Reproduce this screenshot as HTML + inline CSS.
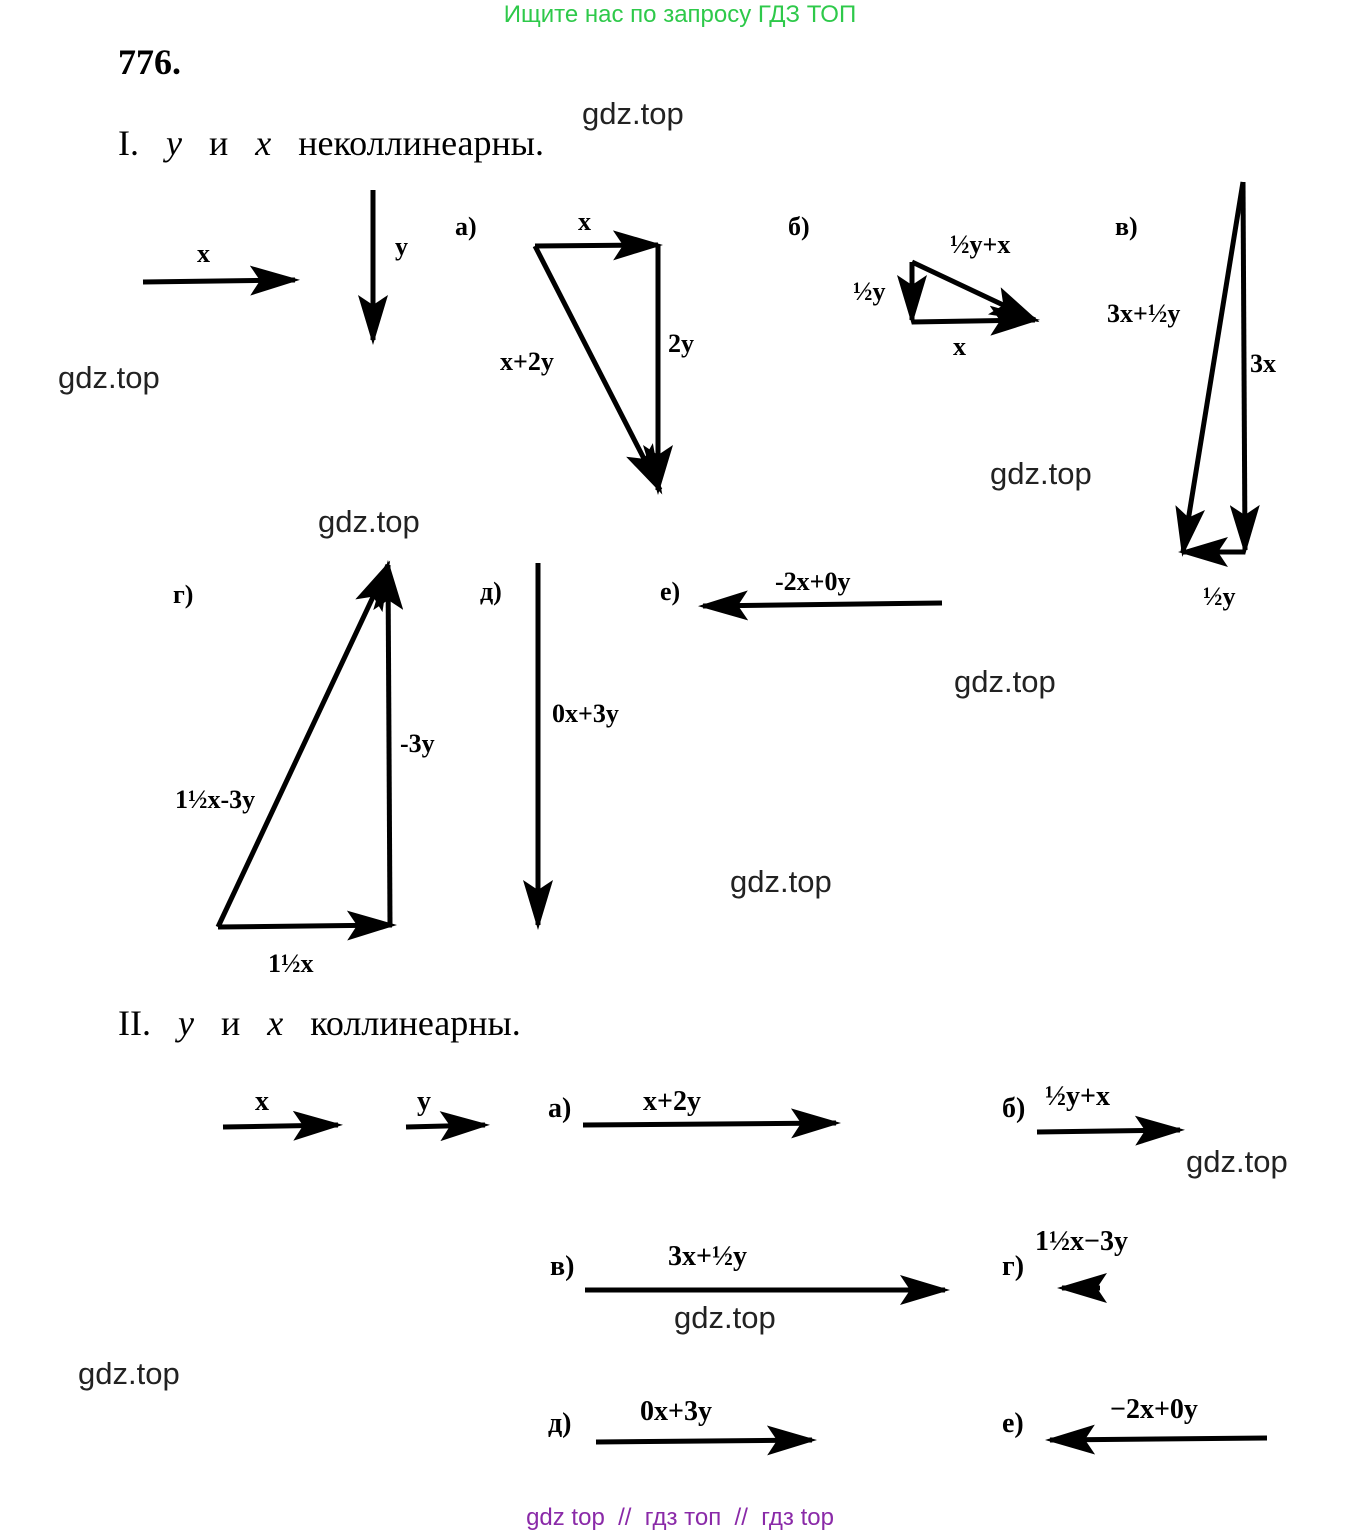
<!DOCTYPE html>
<html><head><meta charset="utf-8"><style>
html,body{margin:0;padding:0;background:#fff}
svg{display:block}
.s{font-family:"Liberation Serif",serif;font-weight:bold;fill:#000}
.n{font-family:"Liberation Serif",serif;fill:#000}
.w{font-family:"Liberation Sans",sans-serif;fill:#222;font-size:31px}
</style></head><body>
<svg width="1363" height="1535" viewBox="0 0 1363 1535" xmlns="http://www.w3.org/2000/svg">
<defs>
<marker id="a" markerWidth="10" markerHeight="6" refX="9" refY="3" orient="auto" markerUnits="strokeWidth">
<polygon points="0,0 10,3 0,6 2,3" fill="#000"/></marker>
</defs>
<text x="680" y="22" text-anchor="middle" font-family="Liberation Sans,sans-serif" font-size="24" fill="#2ec94a">Ищите нас по запросу ГДЗ ТОП</text>
<text x="118" y="74" class="s" font-size="36">776.</text>
<text x="118" y="155" class="n" font-size="36" word-spacing="18">I. <tspan font-style="italic">y</tspan> и <tspan font-style="italic">x</tspan> неколлинеарны.</text>
<g stroke="#000" stroke-width="5" fill="none" marker-end="url(#a)">
<line x1="143" y1="282" x2="295" y2="280"/>
<line x1="373" y1="190" x2="373" y2="340"/>
<line x1="535" y1="246" x2="658" y2="245"/>
<line x1="658" y1="245" x2="658" y2="490"/>
<line x1="535" y1="246" x2="660" y2="490"/>
<line x1="912" y1="262" x2="912" y2="320"/>
<line x1="912" y1="322" x2="1035" y2="320"/>
<line x1="912" y1="262" x2="1035" y2="320"/>
<line x1="1243" y1="182" x2="1245" y2="550"/>
<line x1="1245" y1="552" x2="1183" y2="552"/>
<line x1="1243" y1="182" x2="1183" y2="552"/>
<line x1="218" y1="927" x2="392" y2="925"/>
<line x1="390" y1="925" x2="388" y2="565"/>
<line x1="218" y1="927" x2="388" y2="565"/>
<line x1="538" y1="563" x2="538" y2="925"/>
<line x1="942" y1="603" x2="703" y2="606"/>
<line x1="223" y1="1127" x2="338" y2="1125"/>
<line x1="406" y1="1127" x2="485" y2="1125"/>
<line x1="583" y1="1125" x2="836" y2="1123"/>
<line x1="1037" y1="1132" x2="1180" y2="1130"/>
<line x1="585" y1="1290" x2="945" y2="1290"/>
<line x1="1100" y1="1288" x2="1062" y2="1288"/>
<line x1="596" y1="1442" x2="812" y2="1440"/>
<line x1="1267" y1="1438" x2="1050" y2="1440"/>
</g>
<g class="s" font-size="26">
<text x="197" y="262">x</text>
<text x="395" y="255">y</text>
<text x="455" y="235">а)</text>
<text x="578" y="230">x</text>
<text x="668" y="352">2y</text>
<text x="500" y="370">x+2y</text>
<text x="788" y="235">б)</text>
<text x="950" y="253">½y+x</text>
<text x="853" y="300">½y</text>
<text x="953" y="355">x</text>
<text x="1115" y="235">в)</text>
<text x="1107" y="322">3x+½y</text>
<text x="1250" y="372">3x</text>
<text x="1203" y="605">½y</text>
<text x="173" y="603">г)</text>
<text x="480" y="600">д)</text>
<text x="660" y="600">е)</text>
<text x="775" y="590">-2x+0y</text>
<text x="400" y="752">-3y</text>
<text x="552" y="722">0x+3y</text>
<text x="175" y="808">1½x-3y</text>
<text x="268" y="972">1½x</text>
</g>
<text x="118" y="1035" class="n" font-size="36" word-spacing="18">II. <tspan font-style="italic">y</tspan> и <tspan font-style="italic">x</tspan> коллинеарны.</text>
<g class="s" font-size="28">
<text x="255" y="1110">x</text>
<text x="417" y="1110">y</text>
<text x="548" y="1117">а)</text>
<text x="643" y="1110">x+2y</text>
<text x="1002" y="1117">б)</text>
<text x="1045" y="1105">½y+x</text>
<text x="550" y="1275">в)</text>
<text x="668" y="1265">3x+½y</text>
<text x="1002" y="1275">г)</text>
<text x="1035" y="1250">1½x−3y</text>
<text x="548" y="1432">д)</text>
<text x="640" y="1420">0x+3y</text>
<text x="1002" y="1432">е)</text>
<text x="1110" y="1418">−2x+0y</text>
</g>
<text x="582" y="124" class="w">gdz.top</text>
<text x="58" y="388" class="w">gdz.top</text>
<text x="990" y="484" class="w">gdz.top</text>
<text x="318" y="532" class="w">gdz.top</text>
<text x="954" y="692" class="w">gdz.top</text>
<text x="730" y="892" class="w">gdz.top</text>
<text x="1186" y="1172" class="w">gdz.top</text>
<text x="674" y="1328" class="w">gdz.top</text>
<text x="78" y="1384" class="w">gdz.top</text>
<text x="680" y="1525" text-anchor="middle" font-family="Liberation Sans,sans-serif" font-size="24" fill="#8a2aa8" xml:space="preserve">gdz top  //  гдз топ  //  гдз top</text>
</svg>
</body></html>
